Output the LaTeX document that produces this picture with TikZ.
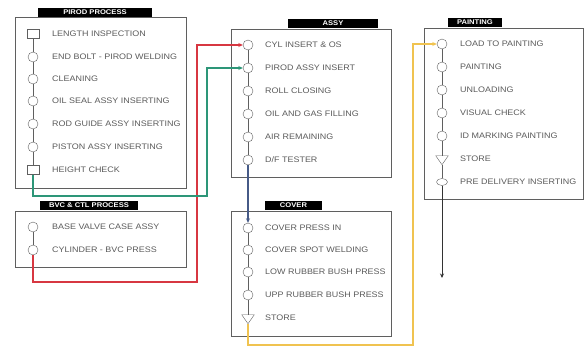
\documentclass[tikz,border=0pt]{standalone}
\usepackage{fontspec}
\setmainfont{Liberation Sans}
\newfontfamily\lblfont[FakeStretch=1.12]{Liberation Sans}
\usetikzlibrary{shapes.geometric,arrows.meta}
\definecolor{boxgray}{RGB}{95,95,95}
\definecolor{txtgray}{RGB}{90,90,90}
\definecolor{lnred}{RGB}{215,55,65}
\definecolor{lngreen}{RGB}{45,150,120}
\definecolor{lnyellow}{RGB}{240,195,80}
\definecolor{lnblue}{RGB}{70,90,135}
\tikzset{
  procbox/.style={draw=boxgray, line width=0.8pt},
  titlebar/.style={fill=black, text=white, font=\lblfont\fontsize{6.8}{7}\selectfont\bfseries, inner sep=0pt},
  opcirc/.style={circle, draw=boxgray, fill=white, minimum size=10pt, inner sep=0pt},
  opsq/.style={rectangle, draw=boxgray, fill=white, minimum width=12pt, minimum height=9pt, inner sep=0pt},
  opstore/.style={isosceles triangle, shape border rotate=-90, isosceles triangle apex angle=70, draw=boxgray, fill=white, minimum height=9pt, inner sep=0pt},
  opoval/.style={ellipse, draw=boxgray, fill=white, minimum width=11pt, minimum height=7pt, inner sep=0pt},
  oplabel/.style={anchor=west, text=txtgray, font=\lblfont\fontsize{8}{9}\selectfont, inner sep=0pt},
  chain/.style={draw=boxgray, line width=0.6pt},
  flow/.style={line width=1.2pt, -{Stealth[length=4.5pt,width=4pt]}}
}
\begin{document}
\begin{tikzpicture}[x=1pt, y=-1pt]
  \useasboundingbox (0,0) rectangle (584,352);

  % PIROD PROCESS
  \draw[procbox] (15,17) rectangle (186,188);
  \node[titlebar, minimum width=114pt, minimum height=9pt] (tpr) at (95,12.5) {PIROD PROCESS};
  \node[opsq]   (pr1) at (33,34)  {};
  \node[opcirc] (pr2) at (33,57)  {};
  \node[opcirc] (pr3) at (33,79)  {};
  \node[opcirc] (pr4) at (33,101) {};
  \node[opcirc] (pr5) at (33,124) {};
  \node[opcirc] (pr6) at (33,147) {};
  \node[opsq]   (pr7) at (33,170) {};
  \node[oplabel] (lpr1) at (52,34)  {LENGTH INSPECTION};
  \node[oplabel] (lpr2) at (52,57)  {END BOLT - PIROD WELDING};
  \node[oplabel] (lpr3) at (52,79)  {CLEANING};
  \node[oplabel] (lpr4) at (52,101) {OIL SEAL ASSY INSERTING};
  \node[oplabel] (lpr5) at (52,124) {ROD GUIDE ASSY INSERTING};
  \node[oplabel] (lpr6) at (52,147) {PISTON ASSY INSERTING};
  \node[oplabel] (lpr7) at (52,170) {HEIGHT CHECK};
  \draw[chain] (pr1) -- (pr2) -- (pr3) -- (pr4) -- (pr5) -- (pr6) -- (pr7);

  % BVC & CTL PROCESS
  \draw[procbox] (15,211) rectangle (186,267);
  \node[titlebar, minimum width=98pt, minimum height=9pt] (tbv) at (89,205.5) {BVC \& CTL PROCESS};
  \node[opcirc] (bv1) at (33,227) {};
  \node[opcirc] (bv2) at (33,250) {};
  \node[oplabel] (lbv1) at (52,227) {BASE VALVE CASE ASSY};
  \node[oplabel] (lbv2) at (52,250) {CYLINDER - BVC PRESS};
  \draw[chain] (bv1) -- (bv2);

  % ASSY
  \draw[procbox] (231,29) rectangle (391,177);
  \node[titlebar, minimum width=90pt, minimum height=9.5pt] (tas) at (333,23.5) {ASSY};
  \node[opcirc] (as1) at (248,45)  {};
  \node[opcirc] (as2) at (248,68)  {};
  \node[opcirc] (as3) at (248,91)  {};
  \node[opcirc] (as4) at (248,114) {};
  \node[opcirc] (as5) at (248,137) {};
  \node[opcirc] (as6) at (248,160) {};
  \node[oplabel] (las1) at (265,45)  {CYL INSERT \& OS};
  \node[oplabel] (las2) at (265,68)  {PIROD ASSY INSERT};
  \node[oplabel] (las3) at (265,91)  {ROLL CLOSING};
  \node[oplabel] (las4) at (265,114) {OIL AND GAS FILLING};
  \node[oplabel] (las5) at (265,137) {AIR REMAINING};
  \node[oplabel] (las6) at (265,160) {D/F TESTER};
  \draw[chain] (as1) -- (as2) -- (as3) -- (as4) -- (as5) -- (as6);

  % COVER
  \draw[procbox] (231,211) rectangle (391,336);
  \node[titlebar, minimum width=57pt, minimum height=9pt] (tcv) at (293.5,205.5) {COVER};
  \node[opcirc]  (cv1) at (248,228) {};
  \node[opcirc]  (cv2) at (248,250) {};
  \node[opcirc]  (cv3) at (248,272) {};
  \node[opcirc]  (cv4) at (248,295) {};
  \node[opstore] (cv5) at (248,318) {};
  \node[oplabel] (lcv1) at (265,228) {COVER PRESS IN};
  \node[oplabel] (lcv2) at (265,250) {COVER SPOT WELDING};
  \node[oplabel] (lcv3) at (265,272) {LOW RUBBER BUSH PRESS};
  \node[oplabel] (lcv4) at (265,295) {UPP RUBBER BUSH PRESS};
  \node[oplabel] (lcv5) at (265,318) {STORE};
  \draw[chain] (cv1) -- (cv2) -- (cv3) -- (cv4) -- (cv5);

  % PAINTING
  \draw[procbox] (424,28) rectangle (583,199);
  \node[titlebar, minimum width=54pt, minimum height=9pt] (tpt) at (475,22.5) {PAINTING};
  \node[opcirc]  (pt1) at (442,44)  {};
  \node[opcirc]  (pt2) at (442,67)  {};
  \node[opcirc]  (pt3) at (442,90)  {};
  \node[opcirc]  (pt4) at (442,113) {};
  \node[opcirc]  (pt5) at (442,136) {};
  \node[opstore] (pt6) at (442,159) {};
  \node[opoval]  (pt7) at (442,182) {};
  \node[oplabel] (lpt1) at (460,44)  {LOAD TO PAINTING};
  \node[oplabel] (lpt2) at (460,67)  {PAINTING};
  \node[oplabel] (lpt3) at (460,90)  {UNLOADING};
  \node[oplabel] (lpt4) at (460,113) {VISUAL CHECK};
  \node[oplabel] (lpt5) at (460,136) {ID MARKING PAINTING};
  \node[oplabel] (lpt6) at (460,159) {STORE};
  \node[oplabel] (lpt7) at (460,182) {PRE DELIVERY INSERTING};
  \draw[chain] (pt1) -- (pt2) -- (pt3) -- (pt4) -- (pt5) -- (pt6) -- (pt7);
  \coordinate (ptend) at (442,278);
  \draw[flow, draw=black!80, line width=0.7pt] (pt7) -- (ptend);

  % connectors
  \coordinate (r1) at (33,282);
  \coordinate (r2) at (197,282);
  \draw[flow, lnred] (bv2) -- (r1) -- (r2) |- (as1);

  \coordinate (g1) at (33,196);
  \coordinate (g2) at (207,196);
  \draw[flow, lngreen] (pr7) -- (g1) -- (g2) |- (as2);

  \draw[flow, lnblue] (as6) -- (cv1);

  \coordinate (y1) at (248,345);
  \coordinate (y2) at (413,345);
  \draw[flow, lnyellow] (cv5) -- (y1) -- (y2) |- (pt1);
\end{tikzpicture}
\end{document}
